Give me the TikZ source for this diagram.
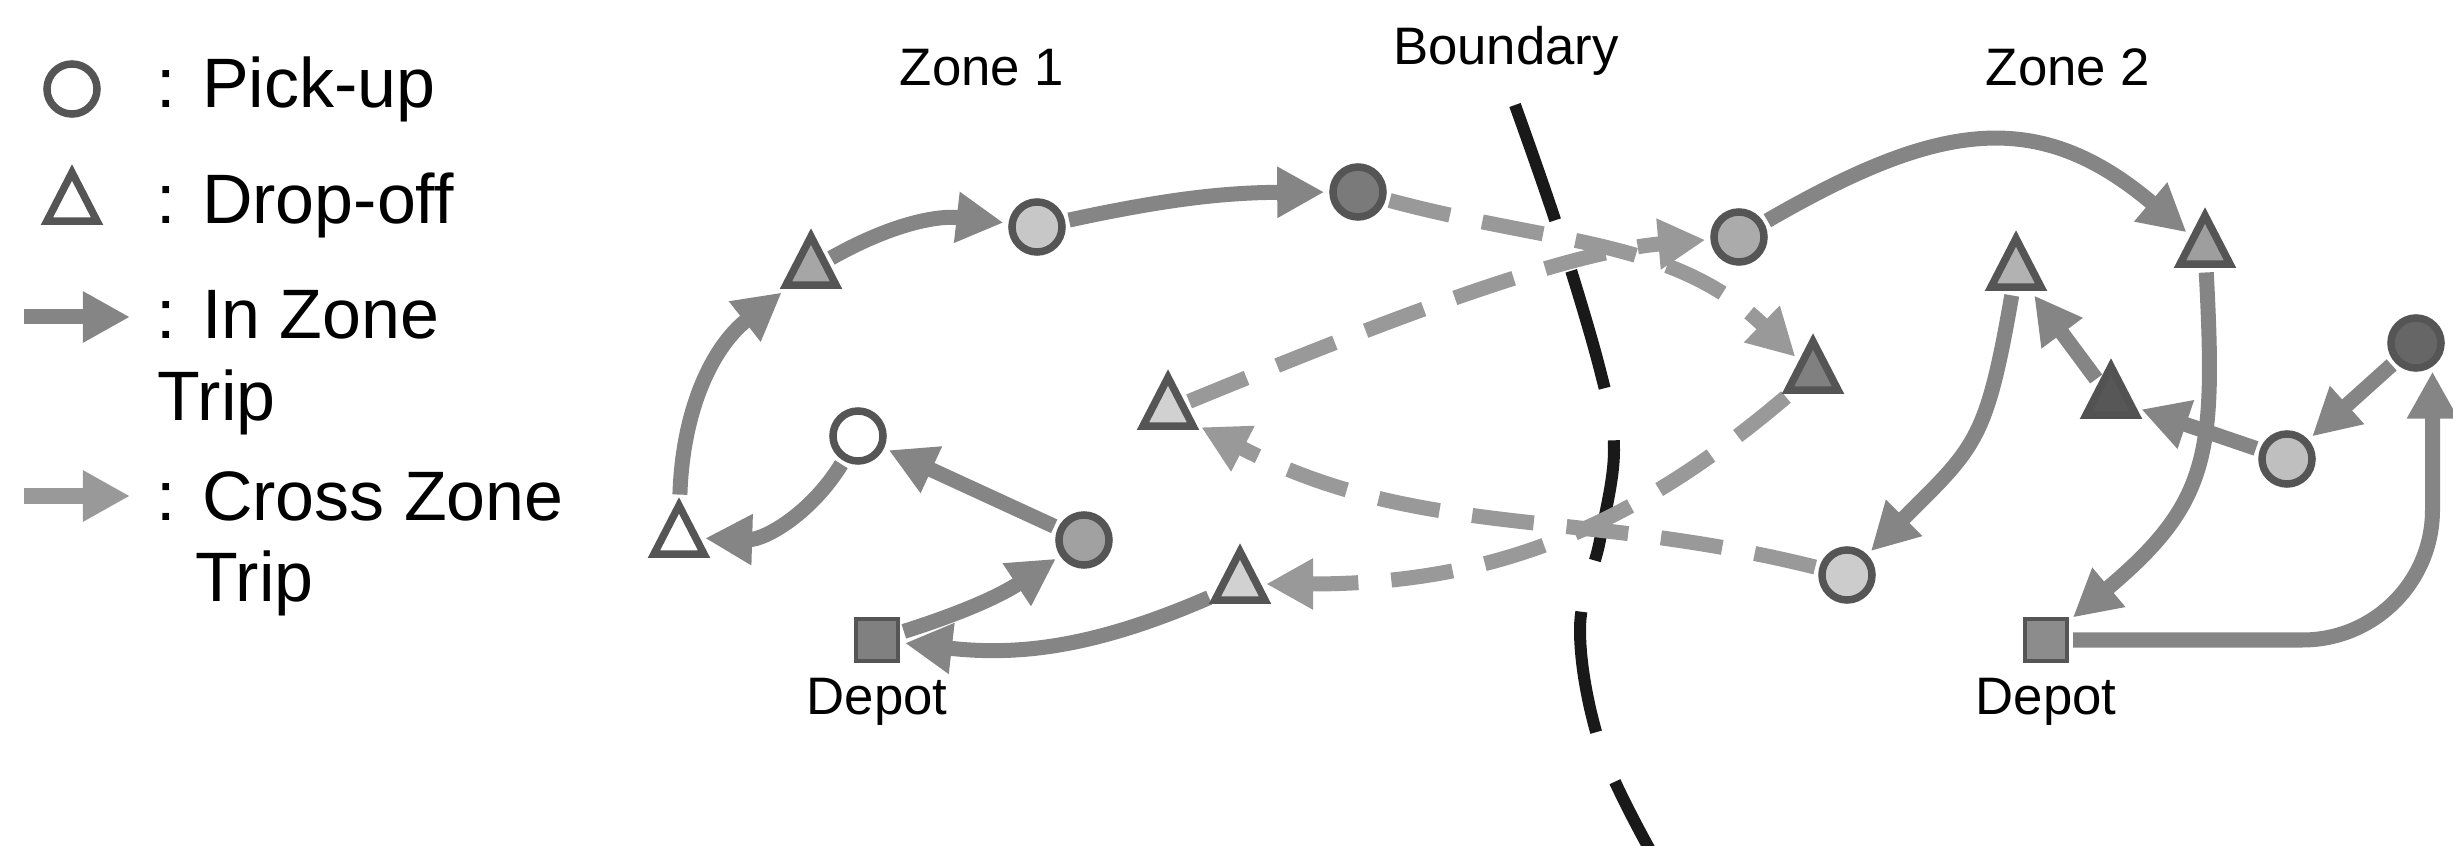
\documentclass[tikz,border=0pt]{standalone}
\usepackage{fontspec}
\setmainfont{Liberation Sans}
\usetikzlibrary{arrows.meta,shapes.geometric,positioning,backgrounds}

\definecolor{tripgray}{HTML}{858585}
\definecolor{crossgray}{HTML}{999999}
\definecolor{rimgray}{HTML}{555555}

\begin{document}
\begin{tikzpicture}[x=0.01cm,y=0.01cm,
		every node/.style={inner sep=0pt},
		pickup/.style={circle,draw=rimgray,line width=0.075cm,minimum size=0.5cm},
		dropoff/.style={regular polygon,regular polygon sides=3,draw=rimgray,line width=0.075cm,
			minimum size=0.58cm,transform shape,yscale=1.12},
		depotbox/.style={rectangle,draw=rimgray,line width=0.04cm,minimum size=0.42cm},
		inzone/.style={draw=tripgray,line width=0.15cm,-{Triangle[length=0.47cm,width=0.48cm]},
			shorten >=0.05cm,shorten <=0.04cm},
		crosszone/.style={inzone,draw=crossgray,dash pattern=on 0.62cm off 0.33cm},
		boundaryline/.style={draw=black!90,line width=0.12cm,dash pattern=on 1.22cm off 0.53cm},
		lbl/.style={font=\fontsize{15}{18}\selectfont},
		legtext/.style={font=\fontsize{19.9}{23}\selectfont,anchor=base west}]
	\useasboundingbox (0,0) rectangle (2453,-846);

	% legend
	\node[pickup,fill=white] (keyP) at (72,-89) {};
	\node[legtext] (keyPt) at (156,-108) {: Pick-up};
	\node[dropoff,fill=white] (keyD) at (72,-205) {};
	\node[legtext] (keyDt) at (156,-224) {: Drop-off};
	\coordinate (keyIa) at (24,-317);
	\coordinate (keyIb) at (130,-317);
	\draw[inzone,shorten >=0pt,shorten <=0pt] (keyIa) -- (keyIb);
	\node[legtext] (keyIt) at (156,-339) {: In Zone};
	\node[legtext] (keyItb) at (157,-421) {Trip};
	\coordinate (keyCa) at (24,-496);
	\coordinate (keyCb) at (130,-496);
	\draw[inzone,draw=crossgray,shorten >=0pt,shorten <=0pt] (keyCa) -- (keyCb);
	\node[legtext] (keyCt) at (156,-521) {: Cross Zone};
	\node[legtext] (keyCtb) at (195,-602) {Trip};

	% titles
	\node[lbl,anchor=base] (zone1) at (982,-86) {Zone 1};
	\node[lbl,anchor=base] (bnd) at (1506,-65) {Boundary};
	\node[lbl,anchor=base] (zone2) at (2068,-86) {Zone 2};

	% zone 1
	\node[dropoff,fill=black!35] (dA) at (811,-269) {};
	\node[pickup,fill=black!22] (pB) at (1037,-227) {};
	\node[pickup,fill=black!52] (pC) at (1358,-192) {};
	\node[dropoff,fill=white] (dL) at (679,-538) {};
	\node[pickup,fill=white] (pM) at (858,-436) {};
	\node[pickup,fill=black!37] (pN) at (1084,-540) {};
	\node[dropoff,fill=black!18] (dO) at (1168,-410) {};
	\node[dropoff,fill=black!18] (dP) at (1240,-584) {};
	\node[depotbox,fill=black!50] (dep1) at (877,-640) {};
	\node[lbl,below=0.14cm of dep1] (dep1t) {Depot};

	% zone 2
	\node[pickup,fill=black!33] (pD) at (1739,-237) {};
	\node[dropoff,fill=black!50] (dG) at (1813,-374) {};
	\node[dropoff,fill=black!30] (dF) at (2016,-271) {};
	\node[dropoff,fill=black!38] (dE) at (2205,-248) {};
	\node[dropoff,draw=black!68,fill=black!66] (dI) at (2111,-399) {};
	\node[pickup,fill=black!60] (pH) at (2416,-343) {};
	\node[pickup,fill=black!25] (pJ) at (2287,-459) {};
	\node[pickup,fill=black!20] (pK) at (1847,-575) {};
	\node[depotbox,fill=black!45] (dep2) at (2046,-640) {};
	\node[lbl,below=0.14cm of dep2] (dep2t) {Depot};

	\begin{pgfonlayer}{background}
		\draw[boundaryline] plot[smooth,tension=0.6] coordinates
			{(1515,-105) (1558,-229) (1600,-370) (1614,-450) (1600,-540) (1580,-630) (1600,-745) (1650,-850)};
		% in zone trips
		\draw[inzone] (dep1) to[bend right=8] (pN);
		\draw[inzone] (pN) -- (pM);
		\draw[inzone] (pM) to[bend left=30] (dL);
		\draw[inzone] (dL) to[bend left=25] (dA);
		\draw[inzone] (dA) to[bend left=18] (pB);
		\draw[inzone] (pB) to[bend left=6] (pC);
		\draw[inzone] (dP) to[bend left=15] (dep1);
		\draw[inzone] (pD) to[out=30,in=140,looseness=1.2] (dE);
		\draw[inzone] (dE) to[out=-87,in=40,looseness=1.25] (dep2);
		\draw[inzone] (dF) to[out=-100,in=45,looseness=1.3] (pK);
		\draw[inzone] (dI) -- (dF);
		\draw[inzone] (pJ) -- (dI);
		\draw[inzone] (pH) -- (pJ);
		\draw[inzone,rounded corners=1.3cm] (dep2) -| (pH.-55);
		% cross zone trips
		\draw[crosszone] (pC) to[out=-15,in=136] (dG);
		\draw[crosszone] (dO) to[out=22,in=185,looseness=0.75] (pD);
		\draw[crosszone] (pK) to[out=166,in=-27] (dO);
		\draw[crosszone] (dG) to[out=220,in=0] (dP);
	\end{pgfonlayer}
\end{tikzpicture}
\end{document}
